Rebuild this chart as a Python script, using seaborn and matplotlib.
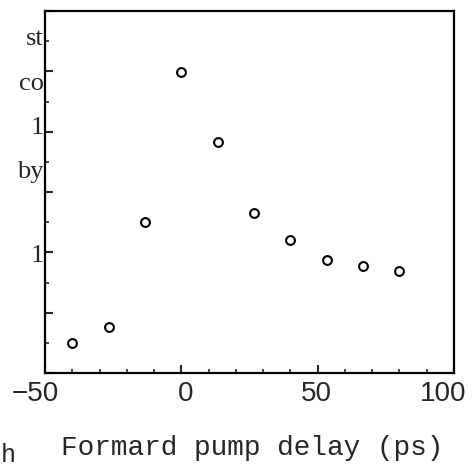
import numpy as np
import pandas as pd
import seaborn as sns
import matplotlib.pyplot as plt
import matplotlib.transforms as mtransforms
from matplotlib.ticker import MultipleLocator, NullFormatter

# pump delay (ps) and signal (arb. units)
delay = [-40.0, -26.7, -13.3, 0.0, 13.3, 26.7, 40.0, 53.3, 66.7, 80.0]
signal = [1.0, 1.53, 5.02, 9.97, 7.65, 5.32, 4.42, 3.76, 3.56, 3.39]
x_ticks = [-50, 0, 50, 100]
x_ticklabels = ["\u221250", "0", "50", "100"]
# cut-off words from the neighbouring column of the scanned page
margin_words = ["st", "co", "1", "by", "1"]
margin_base = [45, 90, 134, 178, 262]

df = pd.DataFrame({"delay": delay, "signal": signal})

sns.set_style("ticks")
plt.rcParams["font.family"] = ["Liberation Sans", "DejaVu Sans"]

W, H = 472, 470
fig = plt.figure(figsize=(W / 100, H / 100), dpi=100)
ax = fig.add_axes([45 / W, 1 - 373 / H, 409 / W, 362 / H])

sns.scatterplot(data=df, x="delay", y="signal", ax=ax, marker="o", s=40,
                facecolor="white", edgecolor="black", linewidth=1.5, legend=False)

ax.set_xlim(-50, 100)
ax.set_ylim(0, 12)
ax.set_xticks(x_ticks)
ax.set_xticklabels(x_ticklabels, fontsize=20)
ax.xaxis.set_minor_locator(MultipleLocator(10))
ax.yaxis.set_major_locator(MultipleLocator(2))
ax.yaxis.set_minor_locator(MultipleLocator(1))
ax.yaxis.set_major_formatter(NullFormatter())
ax.tick_params(axis="both", which="major", direction="in", length=6, width=1.5, pad=6)
ax.tick_params(axis="both", which="minor", direction="in", length=3, width=1.2)
ax.tick_params(axis="y", which="both", left=True, right=False)
ax.tick_params(axis="x", which="both", top=False)
for sp in ax.spines.values():
    sp.set_linewidth(1.6)
    sp.set_color("black")

# the printed labels sit a little off their ticks in the scan
for lab, dx in zip(ax.get_xticklabels(), [-10, 4, -1, -11]):
    lab.set_transform(lab.get_transform() + mtransforms.ScaledTranslation(dx / 100, 0, fig.dpi_scale_trans))

ax.set_ylabel("")
ax.set_xlabel("Formard pump delay (ps)", fontsize=20,
              family=["Liberation Mono", "DejaVu Sans Mono"])
ax.xaxis.label.set_va("baseline")
ax.xaxis.set_label_coords((252 - 45) / 409, (373 - 455) / 362)

for w, yb in zip(margin_words, margin_base):
    fig.text(44 / W, 1 - yb / H, w, ha="right", va="baseline", fontsize=19,
             family=["Liberation Serif", "DejaVu Serif"])
fig.text(1 / W, 1 - 462 / H, "h", ha="left", va="baseline", fontsize=18,
         family=["Liberation Mono", "DejaVu Sans Mono"])

fig.savefig("out.png", dpi=100)
